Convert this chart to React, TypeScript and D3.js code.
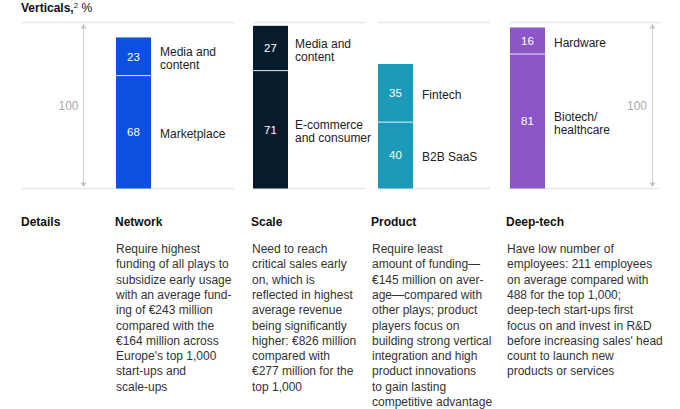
import React from "react";
import * as d3 from "d3";

const columns = ["Network", "Scale", "Product", "Deep-tech"];
const bottomValues = [68, 71, 40, 81];
const topValues = [23, 27, 35, 16];
const bottomLabels = [["Marketplace"], ["E-commerce", "and consumer"], ["B2B SaaS"], ["Biotech/", "healthcare"]];
const topLabels = [["Media and", "content"], ["Media and", "content"], ["Fintech"], ["Hardware"]];
const barColors = ["#0b50e0", "#061c2c", "#1b9aba", "#8a56c8"];
const axisTotal = 100;
const descriptions = [
  ["Require highest", "funding of all plays to", "subsidize early usage", "with an average fund-", "ing of €243 million", "compared with the", "€164 million across", "Europe's top 1,000", "start-ups and", "scale-ups"],
  ["Need to reach", "critical sales early", "on, which is", "reflected in highest", "average revenue", "being significantly", "higher: €826 million", "compared with", "€277 million for the", "top 1,000"],
  ["Require least", "amount of funding—", "€145 million on aver-", "age—compared with", "other plays; product", "players focus on", "building strong vertical", "integration and high", "product innovations", "to gain lasting", "competitive advantage"],
  ["Have low number of", "employees: 211 employees", "on average compared with", "488 for the top 1,000;", "deep-tech start-ups first", "focus on and invest in R&D", "before increasing sales' head", "count to launch new", "products or services"],
];

const W = 680, H = 409;
const FONT = "'Liberation Sans', Arial, sans-serif";
const barX = d3.scaleOrdinal<string, number>().domain(columns).range([116, 253, 378, 510]);
const textX = d3.scaleOrdinal<string, number>().domain(columns).range([116, 252, 372, 507]);
const segs: [number, number][] = [[21, 235], [253, 365], [378, 490], [509, 660]];
const barW = 35;
const y = d3.scaleLinear().domain([0, 100]).range([188.5, 22.5]);

export default function App() {
  const lh = 12.7;
  return (
    <svg width={W} height={H} style={{ position: "absolute", left: 0, top: 0, fontFamily: FONT }}>
      <rect width={W} height={H} fill="#fff" />
      <text x={21} y={12} fontSize={12} fill="#111">
        <tspan fontWeight="bold">Verticals,</tspan>
        <tspan fontSize={8} dy={-4}>2</tspan>
        <tspan dy={4}> %</tspan>
      </text>
      {segs.map((s, i) => (
        <g key={i}>
          <line x1={s[0]} x2={s[1]} y1={y(100)} y2={y(100)} stroke="#e8e8e8" strokeWidth={1.5} />
          <line x1={s[0]} x2={s[1]} y1={y(0)} y2={y(0)} stroke="#e8e8e8" strokeWidth={1.5} />
        </g>
      ))}
      {[83.5, 652.5].map((ax, i) => (
        <g key={i}>
          <line x1={ax} x2={ax} y1={y(100) + 2} y2={y(0) - 2} stroke="#d0d0d0" strokeWidth={1} />
          <path d={`M${ax - 3},${y(100) + 6} L${ax},${y(100) + 1.5} L${ax + 3},${y(100) + 6} Z`} fill="#c4c4c4" />
          <path d={`M${ax - 3},${y(0) - 6} L${ax},${y(0) - 1.5} L${ax + 3},${y(0) - 6} Z`} fill="#c4c4c4" />
          <text x={i === 0 ? 68.5 : 637} y={y(axisTotal / 2) + 4} fontSize={12} fill="#aaa" textAnchor="middle">{axisTotal}</text>
        </g>
      ))}
      {columns.map((c, i) => {
        const x0 = barX(c);
        const b = bottomValues[i], t = topValues[i];
        const yb0 = y(0), yb1 = y(b), yt1 = y(b + t);
        const midB = (yb0 + yb1) / 2, midT = (yb1 + yt1) / 2;
        const lx = x0 + barW + 9 - (i === 1 ? 2 : 0);
        const renderLabel = (lines: string[], mid: number) =>
          lines.map((l, k) => (
            <text key={k} x={lx} y={mid + 6 + (k - (lines.length - 1) / 2) * lh} fontSize={12} fill="#222">{l}</text>
          ));
        return (
          <g key={c}>
            <rect x={x0} y={yb1} width={barW} height={yb0 - yb1} fill={barColors[i]} />
            <rect x={x0} y={yt1} width={barW} height={yb1 - yt1} fill={barColors[i]} />
            <line x1={x0} x2={x0 + barW} y1={yb1} y2={yb1} stroke="#fff" strokeWidth={1} opacity={0.85} />
            <text x={x0 + barW / 2} y={midB + 4} fontSize={11.5} fill="#fff" textAnchor="middle">{b}</text>
            <text x={x0 + barW / 2} y={midT + 4} fontSize={11.5} fill="#fff" textAnchor="middle">{t}</text>
            {renderLabel(bottomLabels[i], midB)}
            {renderLabel(topLabels[i], midT)}
          </g>
        );
      })}
      <text x={21} y={226} fontSize={12} fontWeight="bold" fill="#111">Details</text>
      {columns.map((c, i) => (
        <g key={c}>
          <text x={textX(c) - 1} y={226} fontSize={12} fontWeight="bold" fill="#111">{c}</text>
          {descriptions[i].map((l, k) => (
            <text key={k} x={textX(c)} y={253 + k * 15.3} fontSize={12} fill="#333">{l}</text>
          ))}
        </g>
      ))}
    </svg>
  );
}
